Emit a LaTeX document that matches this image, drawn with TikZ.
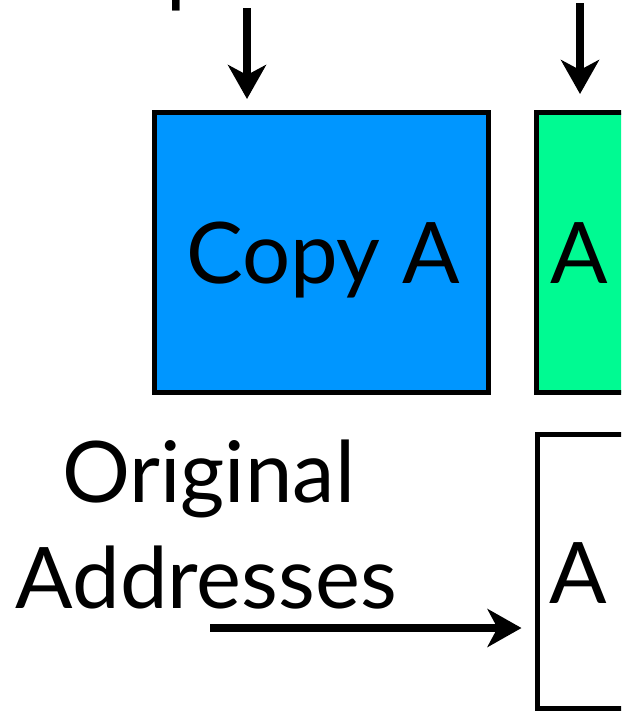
\documentclass[tikz,border=0pt]{standalone}
\usepackage{fontspec}
\setmainfont{Lato}
\usetikzlibrary{arrows.meta}
\definecolor{copyblue}{HTML}{0096FF}
\definecolor{copygreen}{HTML}{00FA92}
\tikzset{
  blk/.style={draw=black, line width=5pt, inner sep=0pt},
  lbl/.style={font=\fontsize{85}{90}\selectfont, inner sep=0pt, anchor=base},
  bigarrow/.style={line width=7.5pt, -{Stealth[length=34pt, width=38pt, inset=10pt]}}
}
\begin{document}
\begin{tikzpicture}[x=1pt, y=-1pt]
  \useasboundingbox (0,0) rectangle (621,712);
  \clip (0,0) rectangle (621,712);
  % descender of a label set above the visible area
  \node[lbl, anchor=base west] (frag) at (166,-3) {p};
  % boxes
  \node[blk, fill=copyblue, minimum width=334pt, minimum height=280pt] (copy) at (321.5,252.5) {};
  \node[lbl] (copytxt) at (323,283) {Copy A};
  \node[blk, fill=copygreen, minimum width=88pt, minimum height=280pt] (green) at (580.5,252.5) {};
  \node[lbl] (greentxt) at (579.5,283) {A};
  \node[blk, fill=white, minimum width=88pt, minimum height=274pt] (orig) at (581.5,571.5) {};
  \node[lbl] (origtxt) at (578,603) {A};
  % caption
  \node[lbl] (cap1) at (208.5,502) {Original};
  \node[lbl] (cap2) at (206.5,608) {Addresses};
  % arrows
  \coordinate (s1) at (247,8);
  \coordinate (s2) at (580,3);
  \coordinate (s3) at (210,628);
  \draw[bigarrow, shorten >=11pt] (s1) -- (s1 |- copy.north);
  \draw[bigarrow, shorten >=16pt] (s2) -- (s2 |- green.north);
  \draw[bigarrow, shorten >=13.5pt] (s3) -- (s3 -| orig.west);
\end{tikzpicture}
\end{document}
